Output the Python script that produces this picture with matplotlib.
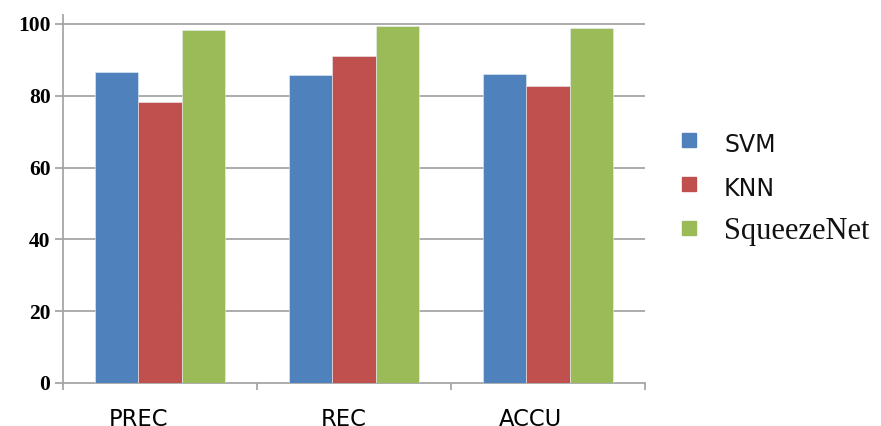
import matplotlib
matplotlib.use("Agg")
import matplotlib.pyplot as plt
import numpy as np
from matplotlib.patches import Rectangle

categories = ["PREC", "REC", "ACCU"]
series_names = ["SVM", "KNN", "SqueezeNet"]
svm = [86.5, 85.7, 86.1]
knn = [78.2, 91.2, 82.8]
squeezenet = [98.3, 99.4, 99.0]
yticks = [0, 20, 40, 60, 80, 100]

colors = ["#4F81BD", "#C0504D", "#9BBB59"]
grid_color = "#A6A6A6"

W, H = 881, 426
fig = plt.figure(figsize=(W / 100, H / 100), dpi=100)
ax = fig.add_axes([63 / W, 1 - 383 / H, (645 - 63) / W, (383 - 15) / H])

x = np.arange(len(categories))
bw = 0.222
for i, vals in enumerate([svm, knn, squeezenet]):
    ax.bar(x + (i - 1) * bw, vals, width=bw, color=colors[i],
           edgecolor="#E8EEF5", linewidth=0.4, zorder=3)

ax.set_xlim(-0.5, 2.5)
ax.set_ylim(0, 102.5)

for v in yticks[1:]:
    ax.axhline(v, color=grid_color, lw=1.3, zorder=1)

ax.set_yticks(yticks)
ax.set_yticklabels([str(v) for v in yticks], fontfamily="Liberation Serif",
                   fontweight="bold", fontsize=15.5)
ax.tick_params(axis="y", length=6, width=1.3, color=grid_color, pad=3)

# category labels sit a little left of each group's centre
label_shift = [-0.113, -0.054, -0.093]
ax.set_xticks(x + np.array(label_shift))
ax.set_xticklabels(categories, fontfamily="DejaVu Sans", fontsize=16.3)
ax.tick_params(axis="x", length=0, pad=18.3)
ax.set_xticks(np.arange(-0.5, 3.0, 1.0), minor=True)
ax.tick_params(axis="x", which="minor", length=5, width=1.3, color=grid_color)

for s in ["top", "right"]:
    ax.spines[s].set_visible(False)
for s in ["left", "bottom"]:
    ax.spines[s].set_color(grid_color)
    ax.spines[s].set_linewidth(1.3)

# legend
leg_y = [140, 184, 228]
leg_text_y = [145, 189, 231]
leg_fonts = [("DejaVu Sans", 17), ("DejaVu Sans", 17), ("Liberation Serif", 22)]
for name, c, yy, ty, (fam, fs) in zip(series_names, colors, leg_y, leg_text_y, leg_fonts):
    fig.patches.append(Rectangle((682 / W, 1 - (yy + 7) / H), 14 / W, 14 / H,
                                 transform=fig.transFigure, color=c))
    fig.text(724 / W, 1 - ty / H, name, family=fam, fontsize=fs,
             va="center", ha="left", color="#111111")

fig.savefig("out.png", dpi=100)
